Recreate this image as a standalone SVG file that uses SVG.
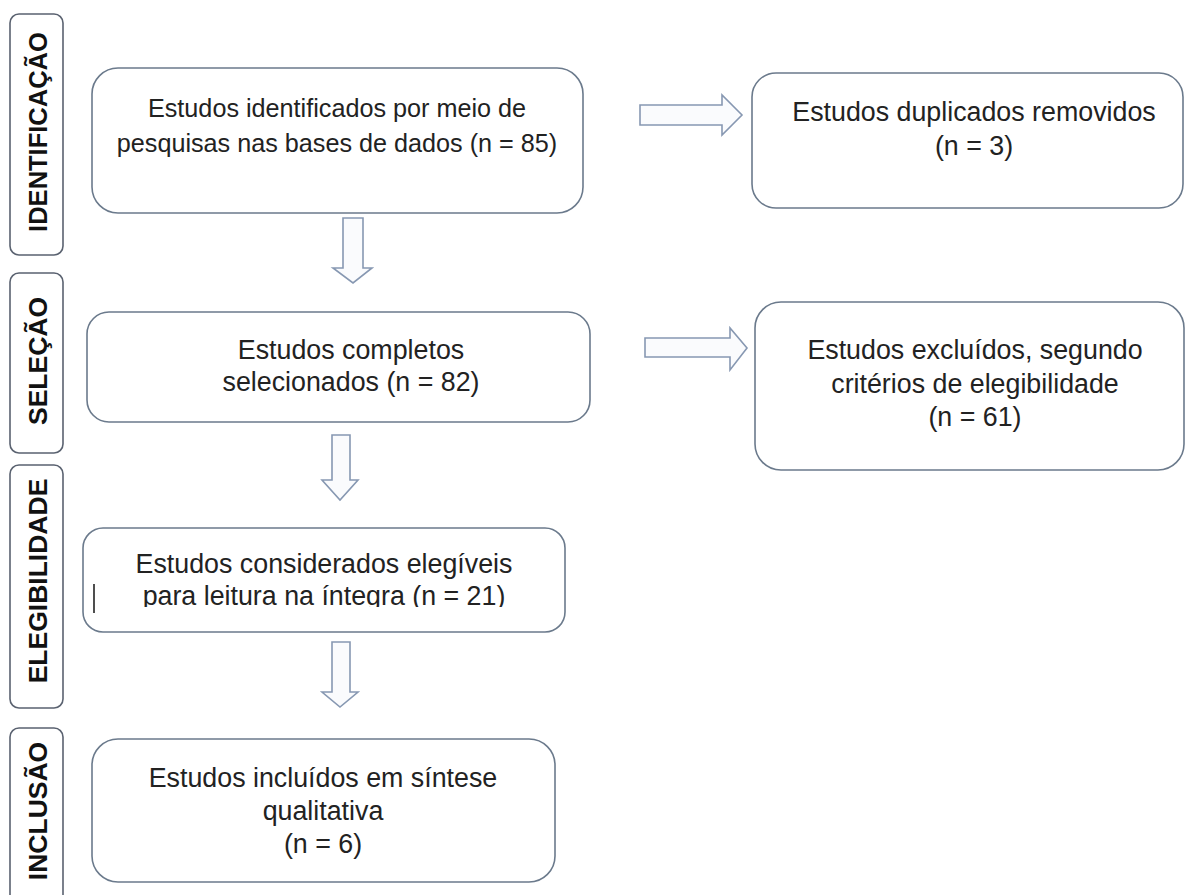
<svg xmlns="http://www.w3.org/2000/svg" width="1187" height="895" viewBox="0 0 1187 895">
<defs>
<style>
.bg{fill:#ffffff}
.box{fill:#ffffff;stroke:#6b7a8c;stroke-width:1.6}
.side{fill:#ffffff;stroke:#5a6270;stroke-width:1.6}
.arr{fill:#fafbfd;stroke:#8798b2;stroke-width:1.6;stroke-linejoin:miter}
.t{font-family:"Liberation Sans",Arial,sans-serif;font-size:26.8px;fill:#222222;text-anchor:middle}
.t1{font-size:25.2px}
.s{font-family:"Liberation Sans",Arial,sans-serif;font-size:26.5px;font-weight:bold;fill:#111111;text-anchor:middle}
</style>
<clipPath id="cut"><rect x="80" y="575" width="500" height="32"/></clipPath>
</defs>
<rect class="bg" x="0" y="0" width="1187" height="895"/>

<g id="stage-identificacao">
<rect class="side" x="10" y="14" width="53" height="241" rx="9"/>
<text class="s" style="font-size:25.5px" transform="translate(47,132) rotate(-90)">IDENTIFICAÇÃO</text>
</g>
<g id="stage-selecao">
<rect class="side" x="10" y="273" width="53" height="180" rx="9"/>
<text class="s" transform="translate(47,361) rotate(-90)">SELEÇÃO</text>
</g>
<g id="stage-elegibilidade">
<rect class="side" x="10" y="465" width="53" height="243" rx="9"/>
<text class="s" transform="translate(47,581) rotate(-90)">ELEGIBILIDADE</text>
</g>
<g id="stage-inclusao">
<rect class="side" x="10" y="728" width="53" height="190" rx="9"/>
<text class="s" transform="translate(47,811) rotate(-90)">INCLUSÃO</text>
</g>

<g id="node-identificados">
<rect class="box" x="92" y="68" width="491" height="145" rx="26"/>
<text class="t t1" x="337" y="117">Estudos identificados por meio de</text>
<text class="t t1" x="337" y="152">pesquisas nas bases de dados (n = 85)</text>
</g>
<g id="node-duplicados">
<rect class="box" x="752" y="73" width="431" height="135" rx="24"/>
<text class="t" x="974" y="121">Estudos duplicados removidos</text>
<text class="t" x="974" y="155">(n = 3)</text>
</g>
<g id="node-completos">
<rect class="box" x="87" y="312" width="503" height="110" rx="22"/>
<text class="t" x="351" y="359">Estudos completos</text>
<text class="t" x="351" y="391">selecionados (n = 82)</text>
</g>
<g id="node-excluidos">
<rect class="box" x="755" y="302" width="429" height="168" rx="26"/>
<text class="t" x="975" y="359">Estudos excluídos, segundo</text>
<text class="t" x="975" y="393">critérios de elegibilidade</text>
<text class="t" x="975" y="426">(n = 61)</text>
</g>
<g id="node-elegiveis">
<rect class="box" x="83" y="528" width="482" height="104" rx="20"/>
<text class="t" x="324" y="573">Estudos considerados elegíveis</text>
<text class="t" x="324" y="605" clip-path="url(#cut)">para leitura na íntegra (n = 21)</text>
<line x1="94" y1="584" x2="94" y2="613" stroke="#222222" stroke-width="1.6"/>
</g>
<g id="node-incluidos">
<rect class="box" x="92" y="739" width="463" height="143" rx="26"/>
<text class="t" x="323" y="787">Estudos incluídos em síntese</text>
<text class="t" x="323" y="820">qualitativa</text>
<text class="t" x="323" y="853">(n = 6)</text>
</g>

<g id="connectors">
<polygon class="arr" points="640,105 722,105 722,95 742,115 722,135 722,125 640,125"/>
<polygon class="arr" points="645,338 730,338 730,328 747,348 730,370 730,357 645,357"/>
<polygon class="arr" points="343,218 363,218 363,268 372,268 353,283 333,268 343,268"/>
<polygon class="arr" points="332,435 350,435 350,480 358,480 340,500 322,480 332,480"/>
<polygon class="arr" points="332,642 350,642 350,692 358,692 340,707 322,692 332,692"/>
</g>
</svg>
